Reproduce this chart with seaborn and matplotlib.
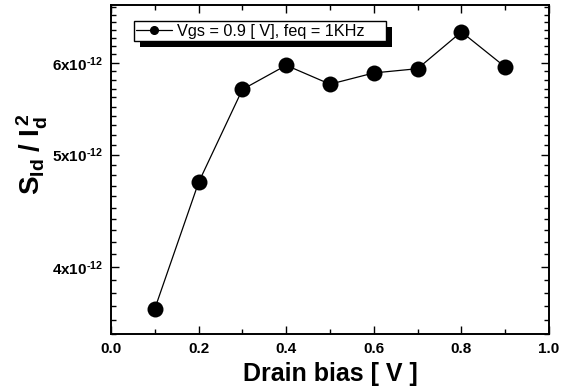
import numpy as np
import pandas as pd
import matplotlib
matplotlib.use("Agg")
import matplotlib.pyplot as plt
from matplotlib.lines import Line2D
from matplotlib.patches import Rectangle
from matplotlib.transforms import IdentityTransform
from matplotlib.ticker import FixedLocator, FuncFormatter
import seaborn as sns

# data
drain_bias = [0.1, 0.2, 0.3, 0.4, 0.5, 0.6, 0.7, 0.8, 0.9]
noise = [3.68e-12, 4.73e-12, 5.69e-12, 5.97e-12, 5.75e-12,
         5.88e-12, 5.93e-12, 6.38e-12, 5.95e-12]
y_major = [4e-12, 5e-12, 6e-12]
legend_label = "Vgs = 0.9 [ V], feq = 1KHz"

sns.set_style("ticks")
plt.rcParams["font.family"] = ["Liberation Sans", "DejaVu Sans"]
plt.rcParams["mathtext.fontset"] = "custom"
plt.rcParams["mathtext.rm"] = "Liberation Sans:bold"
plt.rcParams["mathtext.bf"] = "Liberation Sans:bold"
plt.rcParams["mathtext.it"] = "Liberation Sans:bold"
plt.rcParams["text.color"] = "black"
plt.rcParams["axes.labelcolor"] = "black"
plt.rcParams["xtick.color"] = "black"
plt.rcParams["ytick.color"] = "black"

df = pd.DataFrame({"bias": drain_bias, "noise": noise})

fig = plt.figure(figsize=(5.67, 3.89), dpi=100)
ax = fig.add_axes([111 / 567, 55 / 389, 438 / 567, 329 / 389])

sns.lineplot(data=df, x="bias", y="noise", ax=ax, color="black",
             linewidth=0.9, marker="o", markersize=11.5, markeredgewidth=0,
             zorder=3)

ax.set_yscale("log")
ax.set_xlim(0, 1.0)
ax.set_ylim(3.5e-12, 6.73e-12)

ax.set_xticks(np.arange(0, 1.01, 0.2))
ax.xaxis.set_minor_locator(FixedLocator(np.arange(0.1, 1.0, 0.2)))
ax.xaxis.set_major_formatter(FuncFormatter(lambda v, p: f"{v:.1f}"))

ax.yaxis.set_major_locator(FixedLocator(y_major))
ax.yaxis.set_minor_locator(FixedLocator(np.arange(35, 68) * 1e-13))
ax.yaxis.set_major_formatter(
    FuncFormatter(lambda v, p: r"$\mathbf{%dx10}^{\text{-12}}$" % round(v * 1e12)))
ax.yaxis.set_minor_formatter(FuncFormatter(lambda v, p: ""))

ax.tick_params(which="both", direction="in", top=True, right=True,
               width=1.0, colors="black")
ax.tick_params(which="major", length=6)
ax.tick_params(which="minor", length=3.5)
ax.tick_params(axis="x", which="major", labelsize=11, pad=6)
ax.tick_params(axis="y", which="major", labelsize=11, pad=6)
for lbl in ax.get_xticklabels():
    lbl.set_fontweight("bold")

for s in ax.spines.values():
    s.set_linewidth(1.4)
    s.set_color("black")

ax.set_xlabel("Drain bias [ V ]", fontsize=18, fontweight="bold", labelpad=4)
ax.set_ylabel(r"$\mathbf{S_{Id}\;/\;I_d^{\,2}}$", fontsize=20)
ax.yaxis.set_label_coords(-0.139, 0.547)

handle = Line2D([], [], color="black", linewidth=0.9, marker="o", markersize=5.5)
leg = ax.legend([handle], [legend_label], loc="upper left",
                bbox_to_anchor=(0.0525, 0.951), borderaxespad=0,
                frameon=False, fontsize=11.7, handlelength=2.2,
                handletextpad=0.3, borderpad=0.15)

# boxed legend with extra right padding and a solid black drop shadow
fig.canvas.draw()
bb = leg.get_window_extent()
box_w = bb.width + 19
ax.add_patch(Rectangle((bb.x0 + 6, bb.y0 - 6), box_w, bb.height,
                       transform=IdentityTransform(), facecolor="black",
                       edgecolor="none", zorder=4.4))
ax.add_patch(Rectangle((bb.x0, bb.y0), box_w, bb.height,
                       transform=IdentityTransform(), facecolor="white",
                       edgecolor="black", linewidth=1.0, zorder=4.6))

fig.savefig("out.png", dpi=100)
